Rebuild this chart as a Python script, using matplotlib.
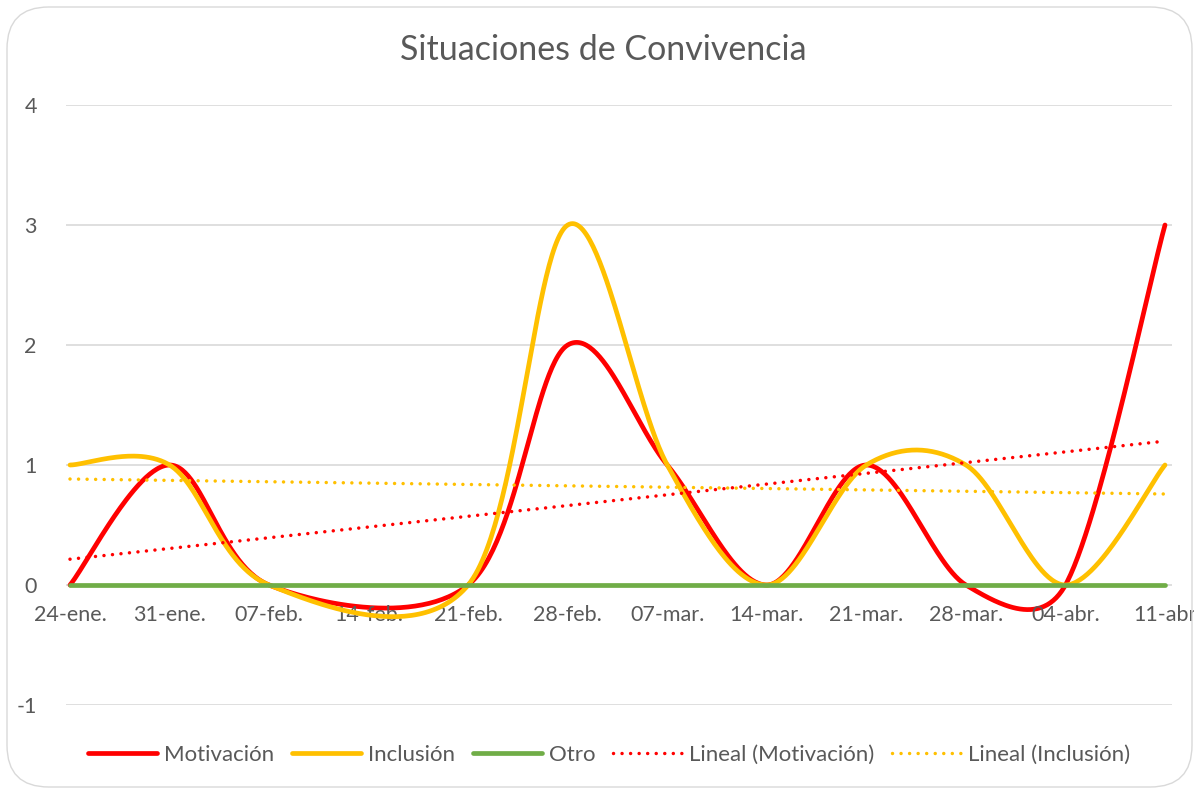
import numpy as np
import matplotlib
matplotlib.use("Agg")
import matplotlib.pyplot as plt
from matplotlib.lines import Line2D
from matplotlib.patches import FancyBboxPatch
import datetime as dt

plt.rcParams['font.family'] = ['Lato', 'DejaVu Sans']
plt.rcParams['axes.unicode_minus'] = False

# ---- data ----
dates = ['2021-01-24', '2021-01-31', '2021-02-07', '2021-02-21', '2021-02-28',
         '2021-03-07', '2021-03-14', '2021-03-21', '2021-03-28', '2021-04-04',
         '2021-04-11']
motivacion = [0, 1, 0, 0, 2, 1, 0, 1, 0, 0, 3]
inclusion = [1, 1, 0, 0, 3, 1, 0, 1, 1, 0, 1]
otro = [0, 0, 0, 0, 0, 0, 0, 0, 0, 0, 0]
tick_dates = ['2021-01-24', '2021-01-31', '2021-02-07', '2021-02-14', '2021-02-21',
              '2021-02-28', '2021-03-07', '2021-03-14', '2021-03-21', '2021-03-28',
              '2021-04-04', '2021-04-11']
tick_labels = ['24-ene.', '31-ene.', '07-feb.', '14-feb.', '21-feb.', '28-feb.',
               '07-mar.', '14-mar.', '21-mar.', '28-mar.', '04-abr.', '11-abr']
title = 'Situaciones de Convivencia'

d0 = dt.date.fromisoformat(dates[0])
x = np.array([(dt.date.fromisoformat(d) - d0).days for d in dates], float)
xt = np.array([(dt.date.fromisoformat(d) - d0).days for d in tick_dates], float)


def smooth(ax, xs, ys, n=60):
    """Excel-style smoothed line (Bezier with limited control points), in display space."""
    P = ax.transData.transform(np.column_stack([xs, ys]).astype(float))
    out = []
    m = len(P)
    for i in range(m - 1):
        p1 = P[i]; p2 = P[i + 1]
        p0 = P[i - 1] if i > 0 else P[i]
        p3 = P[i + 2] if i + 2 < m else P[i + 1]
        d12 = np.hypot(*(p2 - p1))
        d02 = np.hypot(*(p2 - p0))
        d13 = np.hypot(*(p3 - p1))
        f1 = 1 / 6.0 if d02 / 6 < d12 / 2 else d12 / (2 * d02)
        f2 = 1 / 6.0 if d13 / 6 < d12 / 2 else d12 / (2 * d13)
        c1 = p1 + (p2 - p0) * f1
        c2 = p2 - (p3 - p1) * f2
        t = np.linspace(0, 1, n)[:, None]
        seg = ((1 - t) ** 3) * p1 + 3 * ((1 - t) ** 2) * t * c1 + 3 * (1 - t) * t ** 2 * c2 + t ** 3 * p2
        out.append(seg if i == 0 else seg[1:])
    s = ax.transData.inverted().transform(np.vstack(out))
    return s[:, 0], s[:, 1]


W, H = 1194, 790
fig = plt.figure(figsize=(W / 100, H / 100), dpi=100)
fig.patch.set_facecolor('white')

# border
border = FancyBboxPatch((7 / W, 3 / H), (1185 / W), (780 / H),
                        boxstyle="round,pad=0,rounding_size=0.035",
                        transform=fig.transFigure, fill=False,
                        edgecolor='#D9D9D9', linewidth=1.0, mutation_aspect=W / H)
fig.patches.append(border)

ax = fig.add_axes([66 / W, 1 - 705 / H, (1172 - 66) / W, 600 / H])
ax.set_facecolor('none')
xmin = -4 / 14.22
xmax = 77 + 7 / 14.22
ax.set_xlim(xmin, xmax)
ax.set_ylim(-1, 4)

for yv in range(-1, 5):
    ax.axhline(yv, color='#D9D9D9', lw=1.2, zorder=0)

col_m = '#FF0000'
col_i = '#FFC000'
col_o = '#70AD47'

sx, sy = smooth(ax, x, motivacion)
ax.plot(sx, sy, color=col_m, lw=3.4, solid_capstyle='round', zorder=3)
sx, sy = smooth(ax, x, inclusion)
ax.plot(sx, sy, color=col_i, lw=3.4, solid_capstyle='round', zorder=4)
ax.plot(x, otro, color=col_o, lw=3.4, solid_capstyle='round', zorder=5)

# linear trend lines
dots = (0, (0.01, 2.45))
xx = np.array([x[0], x[-1]])
for ys, c in [(motivacion, col_m), (inclusion, col_i)]:
    k, b = np.polyfit(x, ys, 1)
    ax.plot(xx, k * xx + b, color=c, lw=2.5, linestyle=dots,
            dash_capstyle='round', zorder=6)

for s in ax.spines.values():
    s.set_visible(False)
ax.set_yticks(range(-1, 5))
ax.tick_params(axis='y', length=0, pad=21, labelsize=15.5, labelcolor='#595959')
ax.set_xticks([])
for xv, lab in zip(xt, tick_labels):
    ax.text(xv, -0.25, lab, ha='center', va='center', fontsize=15.5, color='#595959')

fig.text(603 / W, 1 - 50 / H, title, ha='center', va='center', fontsize=24.5, color='#595959')

handles = [
    Line2D([], [], color=col_m, lw=3.4, solid_capstyle='round'),
    Line2D([], [], color=col_i, lw=3.4, solid_capstyle='round'),
    Line2D([], [], color=col_o, lw=3.4, solid_capstyle='round'),
    Line2D([], [], color=col_m, lw=2.5, linestyle=dots, dash_capstyle='round'),
    Line2D([], [], color=col_i, lw=2.5, linestyle=dots, dash_capstyle='round'),
]
labels = ['Motivación', 'Inclusión', 'Otro', 'Lineal (Motivación)', 'Lineal (Inclusión)']
leg = fig.legend(handles, labels, loc='center', bbox_to_anchor=(0.5 + 12 / W, 1 - 755 / H),
                 ncol=5, frameon=False, fontsize=16, handlelength=3.1,
                 handletextpad=0.32, columnspacing=0.8, labelcolor='#595959')

fig.savefig('out.png', dpi=100, facecolor='white')
